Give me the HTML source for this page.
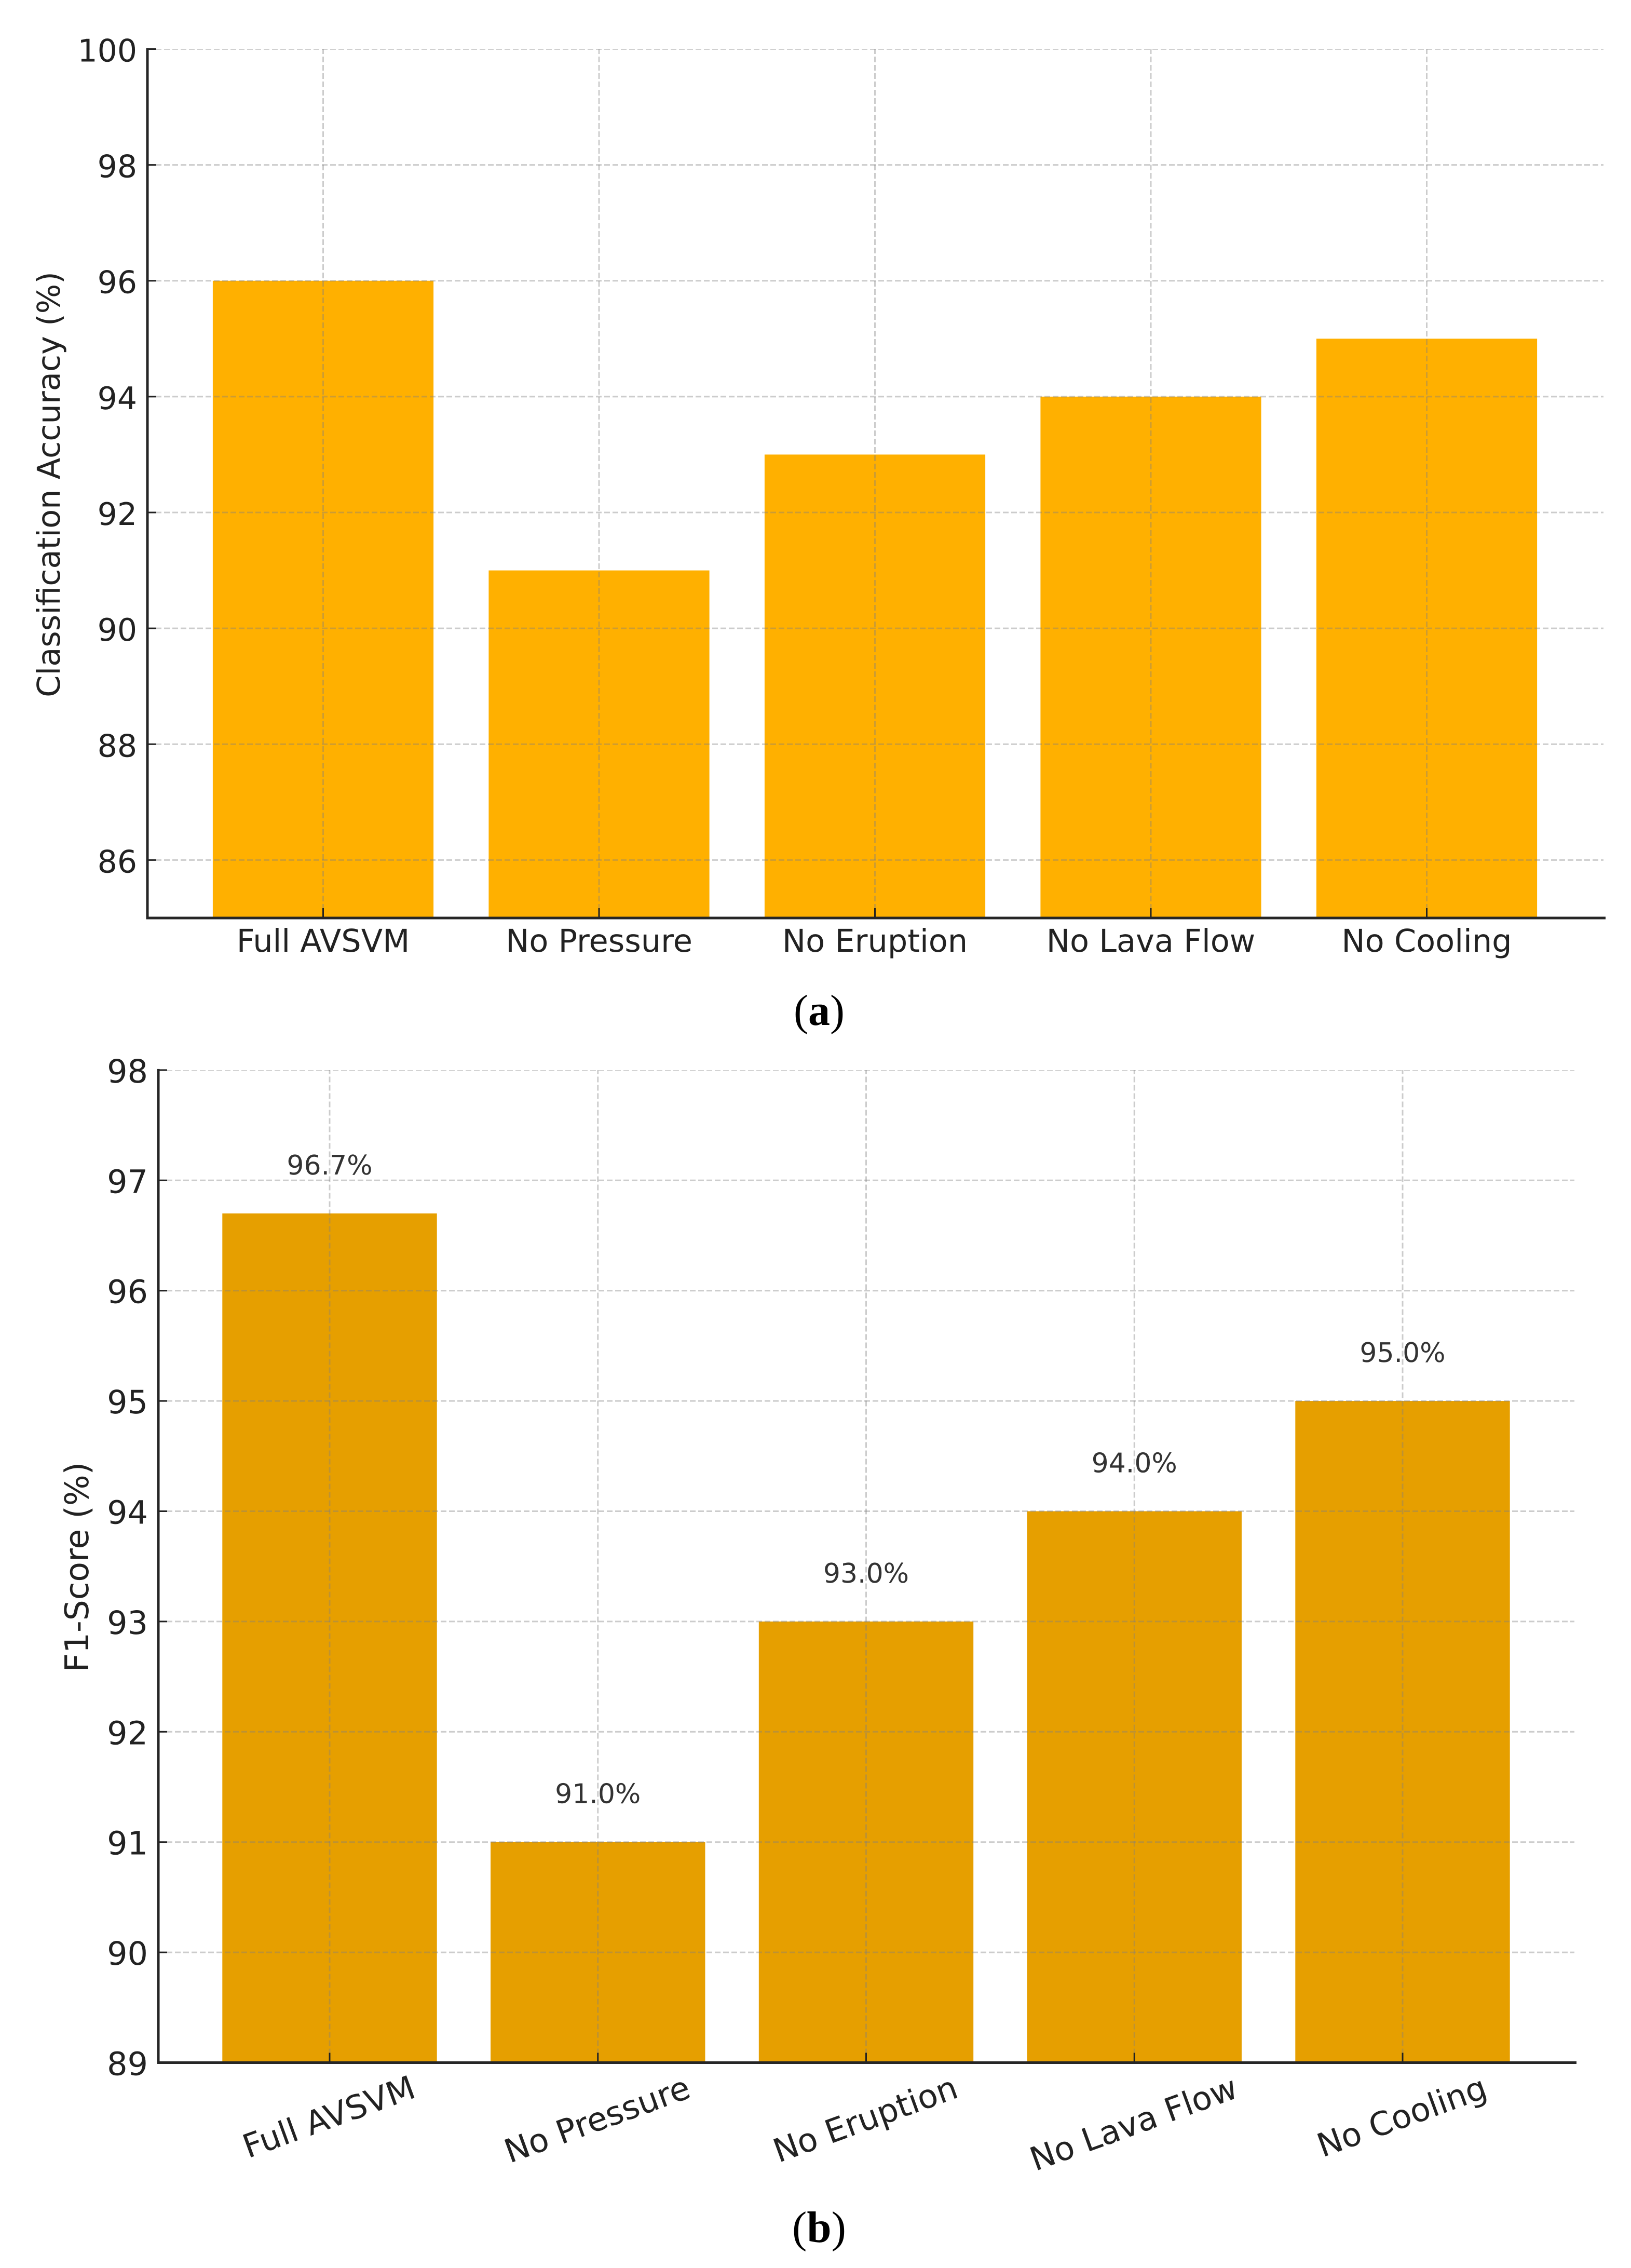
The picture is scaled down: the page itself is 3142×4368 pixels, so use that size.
<!DOCTYPE html>
<html lang="en">
<head>
<meta charset="utf-8">
<title>Classification accuracy and F1-score by model variant</title>
<style>
html,body{margin:0;padding:0;background:#fff}
svg{display:block}
text{font-family:"DejaVu Sans",sans-serif;fill:#222;text-rendering:geometricPrecision}
.caption{font-family:"Liberation Serif",serif;fill:#000}
</style>
</head>
<body>
<svg id="figure" xmlns="http://www.w3.org/2000/svg" width="3142" height="4368" viewBox="0 0 3142 4368">
  <rect x="0" y="0" width="3142" height="4368" fill="#fff"/>
  <defs>
    <clipPath id="clip-a"><rect x="284" y="94.5" width="2809" height="1673.5"/></clipPath>
    <clipPath id="clip-b"><rect x="305" y="2061" width="2732" height="1911.5"/></clipPath>
  </defs>
  <g id="chart-a"></g>
  <text class="caption" x="1578" y="1974" font-size="84" text-anchor="middle">(<tspan font-weight="bold">a</tspan>)</text>
  <g id="chart-b"></g>
  <text class="caption" x="1578" y="4318" font-size="85" text-anchor="middle">(<tspan font-weight="bold">b</tspan>)</text>
</svg>
<script>
const categories = ['Full AVSVM', 'No Pressure', 'No Eruption', 'No Lava Flow', 'No Cooling'];
const accuracyValues = [96, 91, 93, 94, 95];
const accuracyTicks = [86, 88, 90, 92, 94, 96, 98, 100];
const f1Values = [96.7, 91, 93, 94, 95];
const f1Ticks = [89, 90, 91, 92, 93, 94, 95, 96, 97, 98];

const NS = 'http://www.w3.org/2000/svg';

function svgEl(parent, tag, attrs) {
  const el = document.createElementNS(NS, tag);
  for (const key in attrs) el.setAttribute(key, attrs[key]);
  parent.appendChild(el);
  return el;
}

function drawChart(opts) {
  const root = document.getElementById(opts.rootId);
  const yOf = function (v) { return opts.yBottom - (v - opts.yMin) * opts.yUnit; };
  const xOf = function (i) { return opts.x0 + i * opts.pitch; };
  const barW = opts.pitch * 0.8;
  const top = yOf(opts.yMax);
  const bottom = yOf(opts.yMin);

  opts.values.forEach(function (v, i) {
    const bar = svgEl(root, 'rect', { x: xOf(i) - barW / 2, y: yOf(v), width: barW, height: bottom - yOf(v), fill: opts.barColor });
    
    
  });

  const gridGroup = svgEl(root, 'g', { 'clip-path': 'url(#' + opts.clipId + ')', stroke: '#808080', 'stroke-opacity': 0.4, 'stroke-width': 3, 'stroke-dasharray': '11 5' });
  
  

  opts.ticks.forEach(function (t) {
    const line = svgEl(gridGroup, 'line', { x1: opts.axisLeft, x2: opts.axisRight - 4, y1: yOf(t), y2: yOf(t) });
    
    
  });
  categories.forEach(function (c, i) {
    const line = svgEl(gridGroup, 'line', { x1: xOf(i), x2: xOf(i), y1: bottom, y2: top });
    
    
  });

  opts.ticks.forEach(function (t) {
    const mark = svgEl(root, 'line', { x1: opts.axisLeft, x2: opts.axisLeft + 17, y1: yOf(t), y2: yOf(t), stroke: '#222', 'stroke-width': 3 });
    
    
    const label = svgEl(root, 'text', { x: opts.yLabelRight, y: yOf(t) + 24, 'font-size': opts.fontSize, 'text-anchor': 'end' });
    label.textContent = String(t);
    
    
  });

  categories.forEach(function (c, i) {
    const mark = svgEl(root, 'line', { x1: xOf(i), x2: xOf(i), y1: bottom, y2: bottom - 19, stroke: '#222', 'stroke-width': 3 });
    
    
    const label = svgEl(root, 'text', { 'font-size': opts.xLabelSize, 'text-anchor': 'middle', x: xOf(i), y: opts.xLabelY });
    label.textContent = c;
    if (opts.xLabelRotate) {
      // Rotated labels hang from a common top edge, so longer text sits lower.
      const rad = opts.xLabelRotate * Math.PI / 180;
      const textLen = label.getComputedTextLength();
      const ly = opts.xLabelY + (textLen / 2) * Math.sin(rad) + 0.73 * opts.xLabelSize * Math.cos(rad);
      const lx = xOf(i) + 6;
      label.setAttribute('x', lx);
      label.setAttribute('y', ly);
      label.setAttribute('transform', 'rotate(-' + opts.xLabelRotate + ' ' + lx + ' ' + ly + ')');
    }
    
    
  });

  if (opts.showValues) {
    opts.values.forEach(function (v, i) {
      const label = svgEl(root, 'text', { x: xOf(i), y: yOf(v) - 75, 'font-size': 52, 'text-anchor': 'middle', style: 'fill:#333' });
      label.textContent = v.toFixed(1) + '%';
      
      
    });
  }

  const leftSpine = svgEl(root, 'line', { x1: opts.axisLeft, x2: opts.axisLeft, y1: top - 2, y2: bottom + 2.5, stroke: '#262626', 'stroke-width': 5 });
  
  
  const bottomSpine = svgEl(root, 'line', { x1: opts.axisLeft - 2.5, x2: opts.axisRight, y1: bottom, y2: bottom, stroke: '#262626', 'stroke-width': 5 });
  
  

  const tx = opts.titleX, ty = opts.titleY;
  const title = svgEl(root, 'text', { x: tx, y: ty, 'font-size': opts.titleSize, 'text-anchor': 'middle', transform: 'rotate(-90 ' + tx + ' ' + ty + ')' });
  title.textContent = opts.title;
  
  
}

drawChart({
  rootId: 'chart-a', clipId: 'clip-a', values: accuracyValues, ticks: accuracyTicks,
  yMin: 85, yMax: 100, yBottom: 1768, yUnit: 111.57,
  x0: 622.5, pitch: 531.5, axisLeft: 284, axisRight: 3093,
  barColor: '#FFB000', fontSize: 60, xLabelSize: 60.5, titleSize: 60.5, yLabelRight: 264, xLabelY: 1833,
  xLabelRotate: 0, showValues: false,
  title: 'Classification Accuracy (%)', titleX: 115, titleY: 933
});

drawChart({
  rootId: 'chart-b', clipId: 'clip-b', values: f1Values, ticks: f1Ticks,
  yMin: 89, yMax: 98, yBottom: 3972.5, yUnit: 212.4,
  x0: 635, pitch: 516.75, axisLeft: 305, axisRight: 3037,
  barColor: '#E69F00', fontSize: 62, xLabelSize: 63, titleSize: 63, yLabelRight: 285, xLabelY: 3995,
  xLabelRotate: 20, showValues: true,
  title: 'F1-Score (%)', titleX: 170, titleY: 3018
});
</script>
</body>
</html>
